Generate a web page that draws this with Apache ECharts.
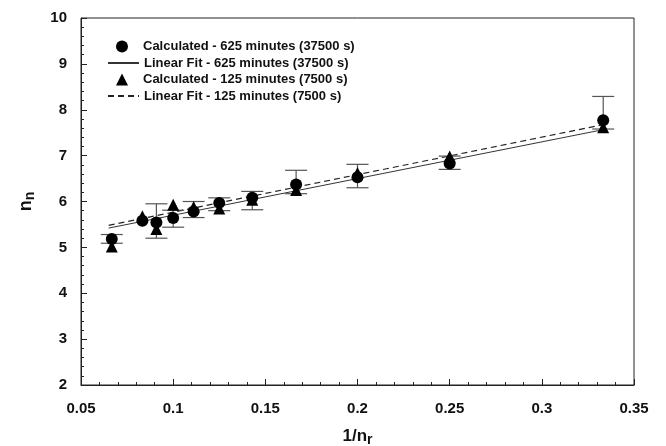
<!DOCTYPE html>
<html><head><meta charset="utf-8">
<script src="https://cdn.jsdelivr.net/npm/echarts@6/dist/echarts.min.js"></script>
<style>html,body{margin:0;padding:0;background:#fff}#c{width:666px;height:446px}</style>
</head><body><div id="c"></div>
<script>
// 1/n_r values
var xVals = [0.0667, 0.0833, 0.0909, 0.1, 0.1111, 0.125, 0.1429, 0.1667, 0.2, 0.25, 0.3333];
// Calculated - 625 minutes
var calc625 = [5.18, 5.58, 5.54, 5.64, 5.78, 5.97, 6.08, 6.37, 6.53, 6.83, 7.77];
// Calculated - 125 minutes
var calc125 = [5.02, 5.68, 5.40, 5.93, 5.88, 5.85, 6.04, 6.25, 6.62, 6.98, 7.62];
// error bars (625 minutes)
var errLow  = [5.09, null, 5.20, 5.44, 5.65, 5.80, 5.82, 6.17, 6.30, 6.70, 7.58];
var errHigh = [5.28, null, 5.95, 5.81, 6.00, 6.08, 6.22, 6.68, 6.81, 6.99, 8.29];
// linear fits (end points)
var fitX = [0.065, 0.335];
var fit625 = [5.42, 7.58];
var fit125 = [5.48, 7.69];
var xTicks = [0.05, 0.1, 0.15, 0.2, 0.25, 0.3, 0.35];
var yTicks = [2, 3, 4, 5, 6, 7, 8, 9, 10];
var names = ['Calculated - 625 minutes (37500 s)','Linear Fit - 625 minutes (37500 s)','Calculated - 125 minutes (7500 s)','Linear Fit - 125 minutes (7500 s)'];

var chart = echarts.init(document.getElementById('c'));
function pairs(xs, ys){ return xs.map(function(x,i){ return [x, ys[i]]; }); }
var errData = [];
xVals.forEach(function(x,i){ if(errLow[i]!=null) errData.push([x, errLow[i], errHigh[i]]); });
var font = 'Liberation Sans, Arial, sans-serif';
var legTxt = {fontFamily:font,fontWeight:'bold',fontSize:13,color:'#111'};
function symLegend(name, top){
  return {orient:'vertical', left:116, top:top, padding:0, itemWidth:12, itemHeight:12,
    textStyle:Object.assign({padding:[0,0,0,10]}, legTxt), data:[name]};
}
function lineLegend(name, top){
  return {orient:'vertical', left:107, top:top, padding:0, itemWidth:31, itemHeight:12,
    textStyle:legTxt, data:[{name:name, itemStyle:{opacity:0}}]};
}
chart.setOption({
  animation:false,
  grid:{left:81,right:32,top:18,bottom:61,outerBoundsMode:'none',containLabel:false,show:true,borderColor:'#222',borderWidth:1,backgroundColor:'transparent'},
  legend:[symLegend(names[0],40), lineLegend(names[1],56.5), symLegend(names[2],73), lineLegend(names[3],89.5)],
  xAxis:{
    type:'value', min:xTicks[0], max:xTicks[xTicks.length-1], interval:0.05,
    name:'{a|1/n}{b|r}', nameLocation:'middle', nameGap:40,
    nameTextStyle:{rich:{a:{fontFamily:font,fontWeight:'bold',fontSize:17,color:'#111'},b:{fontFamily:font,fontWeight:'bold',fontSize:14,color:'#111',padding:[8,0,0,0]}}},
    axisLine:{show:true,lineStyle:{color:'#222',width:1}},
    axisTick:{show:true,inside:true,length:6,lineStyle:{color:'#222'}},
    minorTick:{show:true,splitNumber:5,length:3,lineStyle:{color:'#222'}},
    splitLine:{show:false},
    axisLabel:{margin:16,fontFamily:font,fontWeight:'bold',fontSize:15,color:'#111',formatter:function(v){return String(+v.toFixed(2));}}
  },
  yAxis:{
    type:'value', min:yTicks[0], max:yTicks[yTicks.length-1], interval:1,
    name:'{a|n}{b|n}', nameLocation:'middle', nameGap:44, nameRotate:90,
    nameTextStyle:{rich:{a:{fontFamily:font,fontWeight:'bold',fontSize:18,color:'#111'},b:{fontFamily:font,fontWeight:'bold',fontSize:14,color:'#111',padding:[8,0,0,0]}}},
    axisLine:{show:true,lineStyle:{color:'#222',width:1}},
    axisTick:{show:true,inside:true,length:6,lineStyle:{color:'#222'}},
    minorTick:{show:true,splitNumber:5,length:3,lineStyle:{color:'#222'}},
    splitLine:{show:false},
    axisLabel:{margin:14,fontFamily:font,fontWeight:'bold',fontSize:15,color:'#111'}
  },
  series:[
    {name:names[1], type:'line', data:pairs(fitX, fit625), symbol:'none', lineStyle:{color:'#333',width:1,type:'solid'}, itemStyle:{color:'#333'}, z:2},
    {name:names[3], type:'line', data:pairs(fitX, fit125), symbol:'none', lineStyle:{color:'#222',width:1.2,type:[6,4]}, itemStyle:{color:'#222'}, z:2},
    {type:'custom', name:'err', data:errData, z:3, encode:{x:0,y:[1,2]},
     renderItem:function(params, api){
       var x = api.value(0), lo = api.value(1), hi = api.value(2);
       var p1 = api.coord([x, lo]), p2 = api.coord([x, hi]);
       var hw = 11, st = {stroke:'#555', lineWidth:1.2};
       return {type:'group', children:[
         {type:'line', shape:{x1:p1[0],y1:p1[1],x2:p2[0],y2:p2[1]}, style:st},
         {type:'line', shape:{x1:p1[0]-hw,y1:p1[1],x2:p1[0]+hw,y2:p1[1]}, style:st},
         {type:'line', shape:{x1:p2[0]-hw,y1:p2[1],x2:p2[0]+hw,y2:p2[1]}, style:st}
       ]};
     }},
    {name:names[2], type:'scatter', data:pairs(xVals, calc125), symbol:'triangle', symbolSize:12, itemStyle:{color:'#000',opacity:1}, z:4},
    {name:names[0], type:'scatter', data:pairs(xVals, calc625), symbol:'circle', symbolSize:12, itemStyle:{color:'#000',opacity:1}, z:5}
  ]
});
</script></body></html>
